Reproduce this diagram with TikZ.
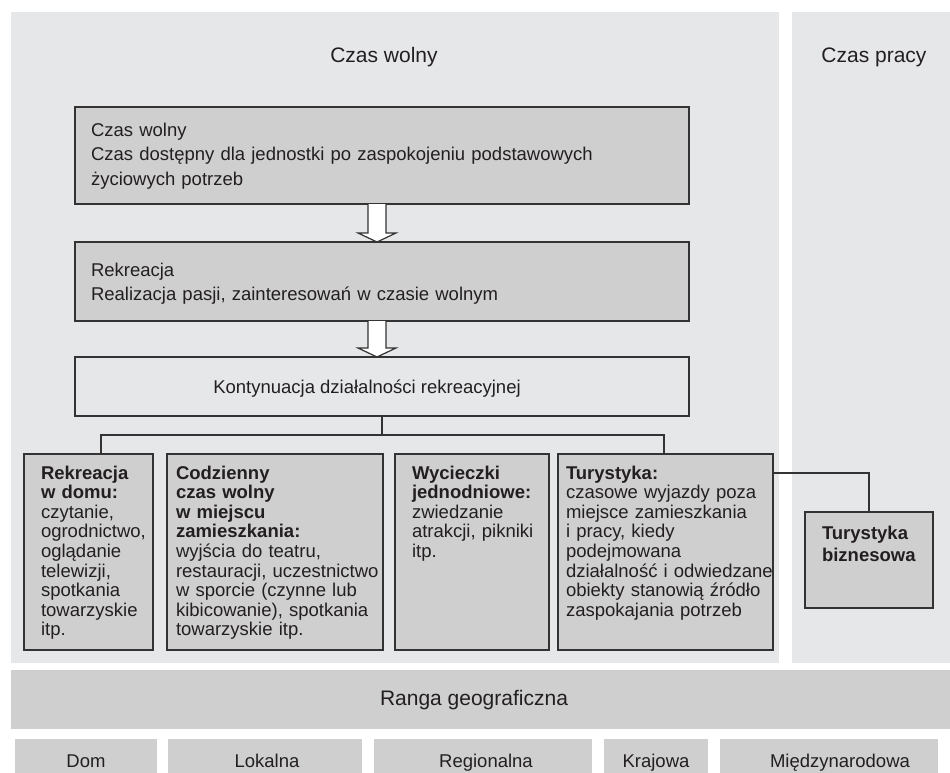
\documentclass[tikz,border=0pt]{standalone}
\usepackage{fontspec}
\setmainfont{Liberation Sans}
\usetikzlibrary{calc}
\definecolor{panelgray}{RGB}{230,231,233}
\definecolor{boxgray}{RGB}{207,207,207}
\definecolor{edgegray}{RGB}{51,51,51}
\definecolor{inkgray}{RGB}{35,31,32}
\newcommand{\titlefont}{\fontsize{21}{25}\selectfont}
\newcommand{\bigboxfont}{\fontsize{18.5}{24.5}\selectfont}
\newcommand{\smallboxfont}{\fontsize{18.5}{19.6}\selectfont}
\newcommand{\bizfont}{\fontsize{18.5}{22}\selectfont}
\begin{document}
\begin{tikzpicture}[x=1pt,y=-1pt,
  panel/.style={fill=panelgray, draw=none, anchor=north west, inner sep=0pt, outer sep=0pt},
  band/.style={fill=boxgray, draw=none, anchor=north west, inner sep=0pt, outer sep=0pt},
  boxnode/.style={fill=boxgray, draw=edgegray, line width=1.2pt, anchor=north west, inner sep=0pt, outer sep=0pt},
  plainbox/.style={fill=panelgray, draw=edgegray, line width=1.2pt, anchor=north west, inner sep=0pt, outer sep=0pt},
  link/.style={draw=edgegray, line width=1.2pt},
  hollow/.style={draw=edgegray, fill=white, line width=1.2pt, line join=miter},
  txt/.style={text=inkgray, inner sep=0pt, outer sep=0pt, anchor=north west, align=left, text width=300pt},
  label/.style={text=inkgray, inner sep=0pt, outer sep=0pt, anchor=base}]
\useasboundingbox (0,0) rectangle (950,773);

% background panels
\node[panel, minimum width=768pt, minimum height=651pt] (leftpanel) at (11,12) {};
\node[panel, minimum width=158pt, minimum height=651pt] (rightpanel) at (792,12) {};
\node[band, minimum width=939pt, minimum height=59pt] (rangaband) at (11,670) {};
\node[band, minimum width=142pt, minimum height=40pt] (domb) at (15,739) {};
\node[band, minimum width=194pt, minimum height=40pt] (lokb) at (168,739) {};
\node[band, minimum width=218pt, minimum height=40pt] (regb) at (374,739) {};
\node[band, minimum width=104pt, minimum height=40pt] (krab) at (604,739) {};
\node[band, minimum width=218pt, minimum height=40pt] (mieb) at (720,739) {};

% main boxes
\node[boxnode, minimum width=614pt, minimum height=97pt] (b1) at (75,107) {};
\node[boxnode, minimum width=614pt, minimum height=79pt] (b2) at (75,242) {};
\node[plainbox, minimum width=614pt, minimum height=59pt] (b3) at (75,357) {};
\node[boxnode, minimum width=129pt, minimum height=196pt] (r1) at (24,454) {};
\node[boxnode, minimum width=216pt, minimum height=196pt] (r2) at (167,454) {};
\node[boxnode, minimum width=154pt, minimum height=196pt] (r3) at (395,454) {};
\node[boxnode, minimum width=215pt, minimum height=196pt] (r4) at (558,454) {};
\node[boxnode, minimum width=128pt, minimum height=96pt] (biz) at (805,512) {};

% hollow arrows
\coordinate (a1top) at (377,204);
\coordinate (a1tip) at (377,242);
\coordinate (a2top) at (377,321);
\coordinate (a2tip) at (377,357);
\draw[hollow] ($(a1top)+(-9,0)$) -- ($(a1tip)+(-9,-9)$) -- ($(a1tip)+(-19,-9)$) -- (a1tip)
  -- ($(a1tip)+(19,-9)$) -- ($(a1tip)+(9,-9)$) -- ($(a1top)+(9,0)$);
\draw[hollow] ($(a2top)+(-9,0)$) -- ($(a2tip)+(-9,-9)$) -- ($(a2tip)+(-19,-9)$) -- (a2tip)
  -- ($(a2tip)+(19,-9)$) -- ($(a2tip)+(9,-9)$) -- ($(a2top)+(9,0)$);

% tree connectors
\coordinate (treeL) at (101,435);
\coordinate (treeR) at (664,435);
\coordinate (bizjoint) at (869,473);
\draw[link] (b3.south) -- (b3.south |- treeL);
\draw[link] (r1.north -| treeL) -- (treeL) -- (treeR) -- (r4.north -| treeR);
\draw[link] (r4.east |- bizjoint) -- (bizjoint) -- (bizjoint |- biz.north);

% titles
\node[label, font=\titlefont] (twolny) at (384,63) {Czas wolny};
\node[label, font=\titlefont] (tpracy) at (874,63) {Czas pracy};
\node[label, font=\titlefont] (tranga) at (474,705) {Ranga geograficzna};

% big box texts
\node[txt, font=\bigboxfont, text width=560pt] (t1) at (91,{136-17.15}) {\strut Czas wolny\\
Czas dostępny dla jednostki po zaspokojeniu podstawowych\\
życiowych potrzeb};
\node[txt, font=\bigboxfont, text width=560pt] (t2) at (91,{276-17.15}) {\strut Rekreacja\\
Realizacja pasji, zainteresowań w czasie wolnym};
\node[label, font=\bigboxfont] (t3) at (367,393) {Kontynuacja działalności rekreacyjnej};

% small box texts
\node[txt, font=\smallboxfont] (tr1) at (41,{479-13.72}) {\strut\textbf{Rekreacja}\\
\textbf{w domu:}\\
czytanie,\\
ogrodnictwo,\\
oglądanie\\
telewizji,\\
spotkania\\
towarzyskie\\
itp.};
\node[txt, font=\smallboxfont] (tr2) at (176,{479-13.72}) {\strut\textbf{Codzienny}\\
\textbf{czas wolny}\\
\textbf{w miejscu}\\
\textbf{zamieszkania:}\\
wyjścia do teatru,\\
restauracji, uczestnictwo\\
w sporcie (czynne lub\\
kibicowanie), spotkania\\
towarzyskie itp.};
\node[txt, font=\smallboxfont] (tr3) at (412,{479-13.72}) {\strut\textbf{Wycieczki}\\
\textbf{jednodniowe:}\\
zwiedzanie\\
atrakcji, pikniki\\
itp.};
\node[txt, font=\smallboxfont] (tr4) at (566,{479-13.72}) {\strut\textbf{Turystyka:}\\
czasowe wyjazdy poza\\
miejsce zamieszkania\\
i pracy, kiedy\\
podejmowana\\
działalność i odwiedzane\\
obiekty stanowią źródło\\
zaspokajania potrzeb};
\node[txt, font=\bizfont] (tbiz) at (822,{539-15.4}) {\strut\textbf{Turystyka}\\
\textbf{biznesowa}};

% bottom labels
\node[label, font=\smallboxfont] (ldom) at (86,767) {Dom};
\node[label, font=\smallboxfont] (llok) at (267,767) {Lokalna};
\node[label, font=\smallboxfont] (lreg) at (486,767) {Regionalna};
\node[label, font=\smallboxfont] (lkra) at (656,767) {Krajowa};
\node[label, font=\smallboxfont] (lmie) at (840,767) {Międzynarodowa};
\end{tikzpicture}
\end{document}
